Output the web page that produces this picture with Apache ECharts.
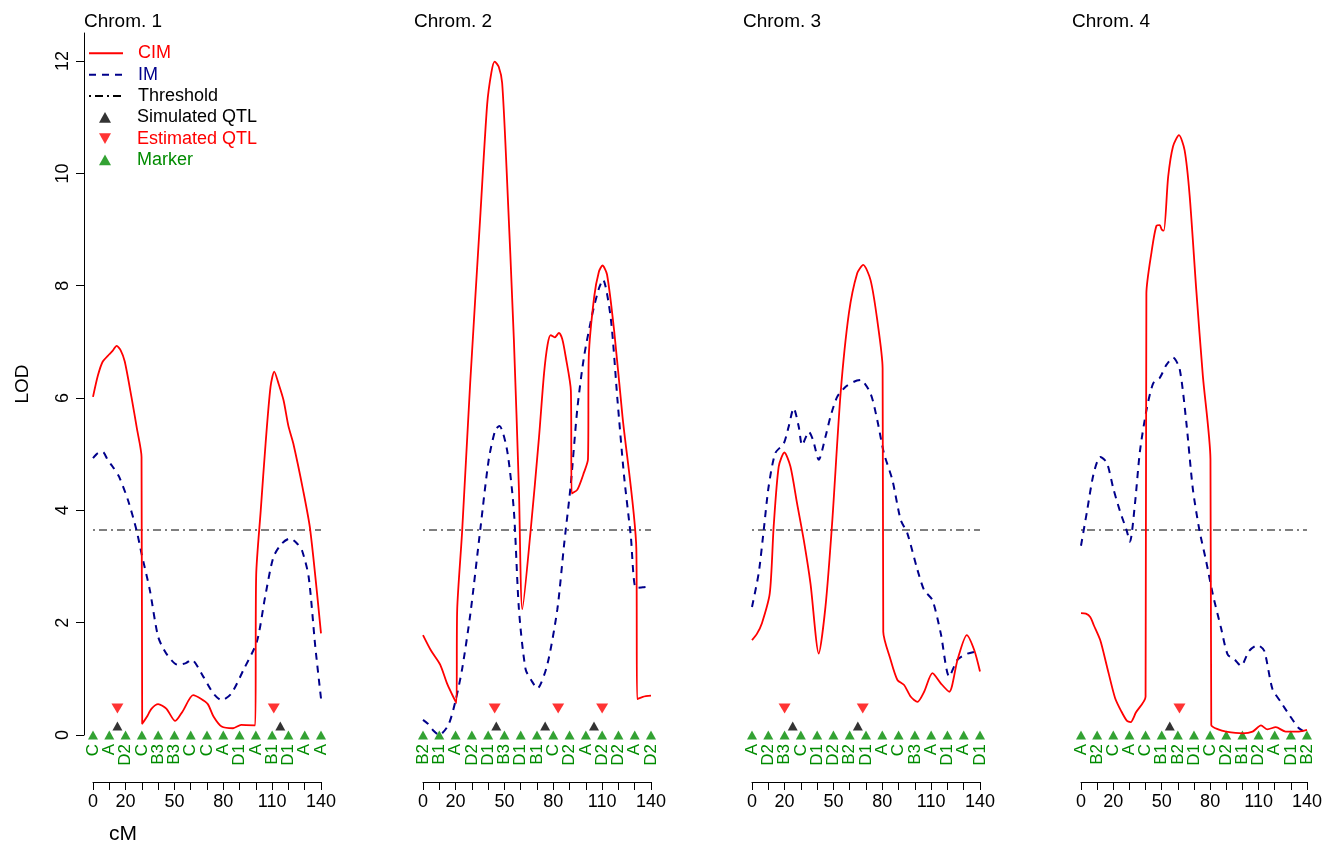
<!DOCTYPE html>
<html><head><meta charset="utf-8">
<script src="https://cdn.jsdelivr.net/npm/echarts@6/dist/echarts.min.js"></script>
<style>html,body{margin:0;padding:0;background:#fff}#c{width:1325px;height:845px}</style>
</head><body><div id="c"></div>
<script>
// ---- data ----
const chromTitles = ['Chrom. 1', 'Chrom. 2', 'Chrom. 3', 'Chrom. 4'];
const threshold = 3.65;
const markerPos = [0, 10, 20, 30, 40, 50, 60, 70, 80, 90, 100, 110, 120, 130, 140];
const markers1 = ['C','A','D2','C','B3','B3','C','C','A','D1','A','B1','D1','A','A'];
const markers2 = ['B2','B1','A','D2','D1','B3','D1','B1','C','D2','A','D2','D2','A','D2'];
const markers3 = ['A','D2','B3','C','D1','D2','B2','D1','A','C','B3','A','D1','A','D1'];
const markers4 = ['A','B2','C','A','C','B1','B2','D1','C','D2','B1','D2','A','D1','B2'];
const simQTL1 = [15, 115];
const simQTL2 = [45, 75, 105];
const simQTL3 = [25, 65];
const simQTL4 = [55];
const estQTL1 = [15, 111];
const estQTL2 = [44, 83, 110];
const estQTL3 = [20, 68];
const estQTL4 = [61];
const xTicks = [0, 10, 20, 30, 40, 50, 60, 70, 80, 90, 100, 110, 120, 130, 140];
const xTickLabels = [0, 20, 50, 80, 110, 140];
const yTicks = [0, 2, 4, 6, 8, 10, 12];

const cim1 = [[0,6.02],[3,6.4],[6,6.65],[10,6.78],[12,6.84],[14.5,6.93],[17,6.85],[19.5,6.65],[23.6,6.02],[27,5.45],[29.8,4.95],[30.2,0.2],[33,0.32],[36,0.47],[40,0.55],[45,0.47],[50.5,0.25],[55,0.42],[61.5,0.71],[66,0.65],[70.5,0.55],[74,0.33],[79,0.15],[86,0.12],[91,0.18],[99.6,0.17],[100.2,2.85],[103,4.0],[106,5.2],[109,6.2],[111.3,6.47],[114,6.25],[117,5.96],[120,5.5],[123,5.19],[129,4.36],[133.4,3.65],[140,1.81]];
const im1 = [[0,4.93],[3,5.02],[6,5.04],[9,4.9],[12,4.78],[16,4.6],[21.5,4.18],[26.7,3.65],[29.8,3.23],[34.9,2.58],[40,1.75],[45,1.45],[52,1.25],[57,1.28],[60.5,1.34],[67.7,1.04],[73.9,0.74],[79,0.62],[85,0.74],[92.4,1.16],[100.6,1.66],[105.7,2.46],[110.8,3.17],[116,3.41],[121,3.5],[125,3.42],[128.3,3.29],[132.4,2.82],[136.5,1.57],[140,0.65]];
const cim2 = [[0,1.78],[5,1.5],[10.6,1.25],[15,0.9],[20.5,0.57],[21,2.24],[24,3.61],[29,6.28],[35.3,9.3],[39.4,11.23],[42,11.8],[44,11.99],[46.5,11.9],[48.6,11.61],[51.3,10.09],[55.8,7.04],[58.9,4.37],[61,2.24],[66,3.61],[71.2,5.29],[74.3,6.43],[76.5,6.95],[78.4,7.12],[80.9,7.08],[83.5,7.16],[85.5,7.05],[87.6,6.74],[90.8,6.13],[91.3,4.3],[94.8,4.37],[98.9,4.68],[101.3,4.91],[101.8,6.74],[105.1,7.8],[108,8.25],[110.2,8.36],[113,8.2],[117.4,7.19],[122.5,5.67],[131,3.31],[131.5,0.64],[135,0.68],[140,0.7]];
const im2 = [[0,0.27],[3,0.2],[6,0.09],[10,0.0],[15.6,0.18],[19.9,0.6],[24,1.17],[29.1,2.16],[35.3,3.69],[40.4,4.91],[44.5,5.44],[47,5.5],[51.7,5.06],[55.8,3.99],[58.9,2.24],[63,1.17],[67,0.95],[70.2,0.83],[76.3,1.25],[82.5,2.24],[86.6,3.38],[90.7,4.45],[94.8,5.82],[98.9,6.74],[104,7.5],[108,7.95],[110.5,8.11],[115.3,7.42],[119.4,5.97],[123.5,4.6],[127.6,3.54],[130.7,2.62],[135,2.63],[140,2.65]];
const cim3 = [[0,1.69],[3,1.8],[6.1,1.99],[10.9,2.52],[13.3,3.71],[16.4,4.78],[19.9,5.03],[23.6,4.78],[27.7,4.12],[31.8,3.47],[35.9,2.7],[41,1.45],[45.1,2.28],[49.2,3.77],[54.4,6.08],[59.5,7.51],[64.6,8.22],[68.3,8.37],[72.8,8.1],[76.9,7.39],[80.2,6.53],[80.6,1.84],[85.1,1.34],[89.3,0.98],[93.4,0.89],[97.5,0.68],[101.6,0.59],[105.7,0.77],[110.8,1.1],[115.9,0.92],[121.1,0.77],[126.2,1.34],[131.9,1.78],[136.5,1.51],[140,1.13]];
const im3 = [[0,2.28],[4.1,2.88],[7.2,3.65],[10.2,4.42],[14.3,5.02],[19.5,5.19],[22.5,5.49],[25.6,5.82],[28.7,5.49],[30.8,5.16],[34.9,5.4],[37.5,5.25],[41,4.9],[45.1,5.31],[48.2,5.67],[52.3,6.02],[57.5,6.2],[62.6,6.29],[66.7,6.32],[72.8,6.08],[76.9,5.61],[81,5.02],[86.2,4.54],[91.3,3.83],[95.4,3.59],[101.6,2.94],[105.7,2.58],[110.8,2.4],[115.9,1.81],[121.1,1.04],[126.2,1.34],[132.3,1.45],[140,1.5]];
const cim4 = [[0,2.17],[3,2.16],[5.7,2.1],[8,1.95],[11.9,1.69],[16,1.23],[21.1,0.66],[25,0.42],[28.5,0.25],[30.8,0.23],[34,0.4],[40,0.68],[40.5,7.86],[43.7,8.6],[46.8,9.07],[48.8,9.08],[50,9.0],[51.3,8.98],[54,9.94],[57,10.48],[60.7,10.68],[64.2,10.41],[67.3,9.61],[71.4,7.93],[75.5,6.39],[80.2,4.91],[80.7,0.18],[85,0.1],[89.9,0.06],[100.1,0.03],[106.3,0.06],[111.5,0.17],[115.5,0.1],[120.7,0.14],[126.8,0.06],[135,0.06],[140,0.09]];
const im4 = [[0,3.37],[3.7,3.98],[7.8,4.65],[11.9,4.95],[16,4.85],[20.1,4.38],[24.2,3.98],[28.3,3.64],[30.3,3.44],[33.4,4.11],[36.5,5.05],[40.6,5.79],[44.7,6.26],[48.8,6.36],[52.9,6.59],[57,6.72],[61.1,6.52],[65.2,5.58],[69.3,4.38],[73.4,3.64],[77.5,3.1],[81.7,2.5],[86.8,1.9],[90.9,1.43],[95,1.35],[99.1,1.23],[104.2,1.5],[109.4,1.6],[113.5,1.5],[118.6,0.82],[123.7,0.59],[129,0.36],[135,0.12],[140,0.04]];

const cimAll = [cim1, cim2, cim3, cim4];
const imAll = [im1, im2, im3, im4];
const markerNames = [markers1, markers2, markers3, markers4];
const simAll = [simQTL1, simQTL2, simQTL3, simQTL4];
const estAll = [estQTL1, estQTL2, estQTL3, estQTL4];

// ---- style ----
const RED = '#FF0000', NAVY = '#00008B', GREEN = '#008B00', BLACK = '#000000';
const FONT = '"Liberation Sans", Arial, Helvetica, sans-serif';
const gridLefts = [93, 423, 752, 1081];
const gridWidth = 228, gridTop = 33, gridHeight = 702;
const SIM_Y = 0.16, EST_Y = 0.47, MARK_Y = 0;
const NOFILL = {color: 'rgba(0,0,0,0)', borderColor: 'rgba(0,0,0,0)', borderWidth: 0};

const grids = [], xAxes = [], yAxes = [], series = [], titles = [];
for (let i = 0; i < 4; i++) {
  grids.push({left: gridLefts[i], top: gridTop, width: gridWidth, height: gridHeight, containLabel: false});
  titles.push({text: chromTitles[i], left: gridLefts[i] - 9, top: 12, padding: 0,
    textStyle: {fontFamily: FONT, fontSize: 19, fontWeight: 'normal', color: BLACK}});
}
for (let i = 0; i < 4; i++) {
  xAxes.push({gridIndex: i, type: 'value', min: 0, max: 140, position: 'bottom', offset: 47,
    axisLine: {show: true, onZero: false, lineStyle: {color: BLACK, width: 1}},
    axisTick: {show: true, length: 8, customValues: xTicks, lineStyle: {color: BLACK}},
    axisLabel: {customValues: xTickLabels, margin: 11, fontFamily: FONT, fontSize: 18, color: BLACK,
      showMinLabel: true, showMaxLabel: true, hideOverlap: false},
    splitLine: {show: false}});
}
// marker-name label axes: even-indexed and odd-indexed markers on two axes so none is auto-hidden
for (let i = 0; i < 4; i++) {
  const names = markerNames[i];
  for (let parity = 0; parity < 2; parity++) {
    xAxes.push({gridIndex: i, type: 'value', min: 0, max: 140, position: 'bottom', offset: 0,
      axisLine: {show: false, onZero: false}, axisTick: {show: false}, splitLine: {show: false},
      axisLabel: {customValues: markerPos.filter((p, k) => k % 2 === parity), rotate: 90, margin: 9,
        fontFamily: FONT, fontSize: 17, color: GREEN, showMinLabel: true, showMaxLabel: true, hideOverlap: false,
        formatter: v => names[markerPos.indexOf(v)]}});
  }
}
for (let i = 0; i < 4; i++) {
  yAxes.push({gridIndex: i, type: 'value', min: 0, max: 12.5, show: i === 0, offset: 9,
    name: i === 0 ? 'LOD' : '', nameLocation: 'middle', nameGap: 52,
    nameTextStyle: {fontFamily: FONT, fontSize: 19, color: BLACK},
    axisLine: {show: true, onZero: false, lineStyle: {color: BLACK, width: 1}},
    axisTick: {show: true, length: 8, customValues: yTicks, lineStyle: {color: BLACK}},
    axisLabel: {customValues: yTicks, rotate: 90, margin: 12, fontFamily: FONT, fontSize: 18, color: BLACK,
      showMinLabel: true, showMaxLabel: true},
    splitLine: {show: false}});
}
for (let i = 0; i < 4; i++) {
  series.push({name: 'CIM', type: 'line', xAxisIndex: i, yAxisIndex: i, data: cimAll[i],
    symbol: 'none', showSymbol: false, smooth: 0.25, clip: false, z: 4,
    lineStyle: {color: RED, width: 1.8}, itemStyle: {color: RED}});
  series.push({name: 'IM', type: 'line', xAxisIndex: i, yAxisIndex: i, data: imAll[i],
    symbol: 'none', showSymbol: false, smooth: 0.25, clip: false, z: 3,
    lineStyle: {color: NAVY, width: 2, type: [7, 6]}, itemStyle: {color: NAVY}});
  series.push({name: 'Threshold', type: 'line', xAxisIndex: i, yAxisIndex: i,
    data: [[0, threshold], [140, threshold]],
    symbol: 'none', showSymbol: false, clip: false, z: 2,
    lineStyle: {color: BLACK, width: 1.1, type: [2, 4, 8, 4]}, itemStyle: {color: BLACK}});
  series.push({name: 'Marker', type: 'scatter', xAxisIndex: i, yAxisIndex: i,
    data: markerPos.map(p => [p, MARK_Y]), symbol: 'triangle', symbolSize: [10, 9], clip: false,
    itemStyle: {color: GREEN}});
  series.push({name: 'Simulated QTL', type: 'scatter', xAxisIndex: i, yAxisIndex: i,
    data: simAll[i].map(p => [p, SIM_Y]), symbol: 'triangle', symbolSize: [10, 9], clip: false,
    itemStyle: {color: BLACK}});
  series.push({name: 'Estimated QTL', type: 'scatter', xAxisIndex: i, yAxisIndex: i,
    data: estAll[i].map(p => [p, EST_Y]), symbol: 'triangle', symbolRotate: 180, symbolSize: [12, 10], clip: false,
    itemStyle: {color: RED}});
}
titles.push({text: 'cM', left: 109, top: 824, padding: 0,
  textStyle: {fontFamily: FONT, fontSize: 21, fontWeight: 'normal', color: BLACK}});

const legendText = {fontFamily: FONT, fontSize: 18, lineHeight: 21.3};
const option = {
  animation: false,
  backgroundColor: '#ffffff',
  title: titles,
  grid: grids, xAxis: xAxes, yAxis: yAxes, series: series,
  legend: [
    {orient: 'vertical', left: 88, top: 42.7, padding: 0, itemGap: 0, itemWidth: 34, itemHeight: 14,
      selectedMode: false, textStyle: Object.assign({padding: [0, 0, 0, 10]}, legendText),
      data: [{name: 'CIM', itemStyle: NOFILL, textStyle: {color: RED}},
             {name: 'IM', itemStyle: NOFILL, textStyle: {color: NAVY}},
             {name: 'Threshold', itemStyle: NOFILL, textStyle: {color: BLACK}}]},
    {orient: 'vertical', left: 99, top: 106.7, padding: 0, itemGap: 0, itemWidth: 12, itemHeight: 11,
      selectedMode: false, textStyle: Object.assign({padding: [0, 0, 0, 21]}, legendText),
      data: [{name: 'Simulated QTL', icon: 'path://M5,0L10,9L0,9Z', itemStyle: {color: BLACK}, textStyle: {color: BLACK}},
             {name: 'Estimated QTL', icon: 'path://M0,0L10,0L5,9Z', itemStyle: {color: RED}, textStyle: {color: RED}},
             {name: 'Marker', icon: 'path://M5,0L10,9L0,9Z', itemStyle: {color: GREEN}, textStyle: {color: GREEN}}]}
  ]
};
const chart = echarts.init(document.getElementById('c'), null, {renderer: 'canvas'});
chart.setOption(option);
</script></body></html>
